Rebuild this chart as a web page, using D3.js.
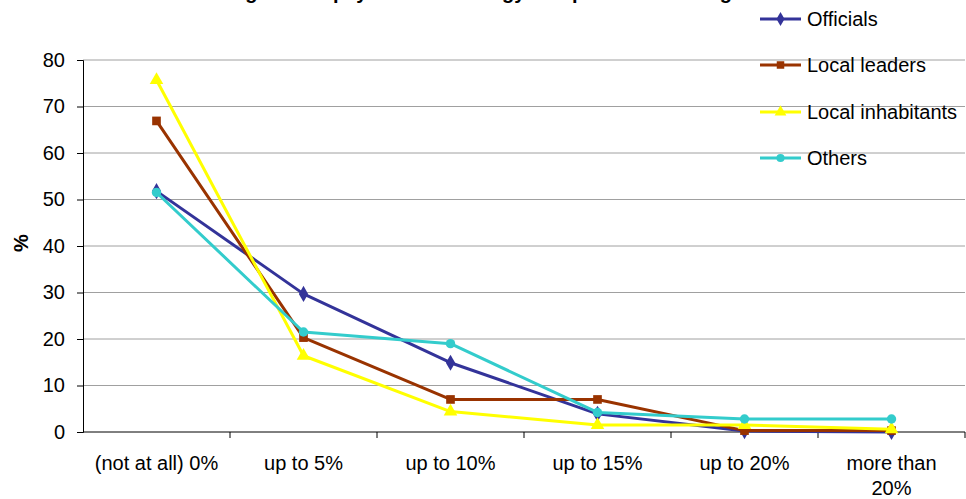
<!DOCTYPE html>
<html><head><meta charset="utf-8">
<script src="https://cdn.jsdelivr.net/npm/d3@7"></script>
<style>body{margin:0;background:#fff;}svg{display:block;font-family:"Liberation Sans",Arial,sans-serif;}</style>
</head><body>
<svg id="c" width="966" height="499"></svg>
<script>
const categories = ["(not at all) 0%", "up to 5%", "up to 10%", "up to 15%", "up to 20%", "more than 20%"];
const officials = [51.8, 29.7, 14.9, 3.9, 0.2, 0.0];
const localLeaders = [66.9, 20.3, 7.0, 7.0, 0.3, 0.3];
const localInhabitants = [75.7, 16.4, 4.4, 1.5, 1.5, 0.6];
const others = [51.5, 21.5, 19.0, 4.2, 2.8, 2.8];
const seriesNames = ["Officials", "Local leaders", "Local inhabitants", "Others"];
const yTicks = [0, 10, 20, 30, 40, 50, 60, 70, 80];
const titleText = "Willingness to pay more for energy compared to existing";

const series = [
  {name: seriesNames[0], values: officials, color: "#333399", sym: d3.symbolDiamond, size: 75},
  {name: seriesNames[1], values: localLeaders, color: "#993300", sym: d3.symbolSquare, size: 75},
  {name: seriesNames[2], values: localInhabitants, color: "#FFFF00", sym: d3.symbolTriangle, size: 80},
  {name: seriesNames[3], values: others, color: "#33CCCC", sym: d3.symbolCircle, size: 70}
];

const FS = 20;
const svg = d3.select("#c");
const L = 83, R = 965, T = 60, B = 432;
const x = d3.scaleBand().domain(categories).range([L, R]);
const y = d3.scaleLinear().domain([0, 80]).range([B, T]);

// title (mostly cut off at top, as in the reference)
svg.append("text").attr("x", 462).attr("y", -1).attr("text-anchor", "middle")
  .attr("font-size", FS).attr("font-weight", "bold").text(titleText);

// gridlines
svg.append("g").selectAll("line").data(yTicks.filter(d => d > 0)).join("line")
  .attr("x1", L).attr("x2", R).attr("y1", d => y(d)).attr("y2", d => y(d))
  .attr("stroke", "#a0a0a0").attr("stroke-width", 1);

// y axis
const ya = svg.append("g").attr("transform", `translate(${L},0)`)
  .call(d3.axisLeft(y).tickValues(yTicks).tickSize(6).tickPadding(12));
ya.select(".domain").attr("stroke", "#000");
ya.selectAll("line").attr("stroke", "#000");
ya.selectAll("text").attr("font-size", FS).attr("fill", "#000").attr("font-family", "Liberation Sans, Arial, sans-serif");

// x axis
const xa = svg.append("g").attr("transform", `translate(0,${B})`);
xa.append("line").attr("x1", L).attr("x2", R).attr("stroke", "#000");
xa.selectAll(".tk").data(categories).join("line").attr("class", "tk")
  .attr("x1", d => x(d) + x.bandwidth()).attr("x2", d => x(d) + x.bandwidth())
  .attr("y1", 0).attr("y2", 6).attr("stroke", "#000");
xa.selectAll(".lb").data(categories).join("text").attr("class", "lb")
  .attr("text-anchor", "middle").attr("font-size", FS).attr("fill", "#000")
  .each(function(d) {
    const t = d3.select(this);
    const cx = x(d) + x.bandwidth() / 2;
    const lines = d === "more than 20%" ? ["more than", "20%"] : [d];
    lines.forEach((s, i) => t.append("tspan").attr("x", cx).attr("y", 38 + i * 25).text(s));
  });

// y title
svg.append("text").attr("transform", "translate(28,243) rotate(-90)")
  .attr("text-anchor", "middle").attr("font-size", FS).attr("font-weight", "bold").text("%");

// lines
const line = d3.line().x((d, i) => x(categories[i]) + x.bandwidth() / 2).y(d => y(d));
series.forEach(s => {
  const g = svg.append("g");
  g.append("path").attr("d", line(s.values)).attr("fill", "none")
    .attr("stroke", s.color).attr("stroke-width", 3).attr("stroke-linejoin", "round");
  g.selectAll("path.m").data(s.values).join("path").attr("class", "m")
    .attr("transform", (d, i) => `translate(${x(categories[i]) + x.bandwidth() / 2},${y(d)})`)
    .attr("d", d3.symbol().type(s.sym).size(s.size)).attr("fill", s.color);
});

// legend
const lg = svg.append("g");
const rows = [19, 65, 112, 158];
series.forEach((s, i) => {
  const r = lg.append("g").attr("transform", `translate(0,${rows[i]})`);
  r.append("line").attr("x1", 760).attr("x2", 801).attr("stroke", s.color).attr("stroke-width", 3);
  r.append("path").attr("transform", "translate(780.5,0)")
    .attr("d", d3.symbol().type(s.sym).size(s.size * 0.75)).attr("fill", s.color);
  r.append("text").attr("x", 807).attr("y", 7).attr("font-size", FS).attr("fill", "#000").text(s.name);
});
</script>
</body></html>
